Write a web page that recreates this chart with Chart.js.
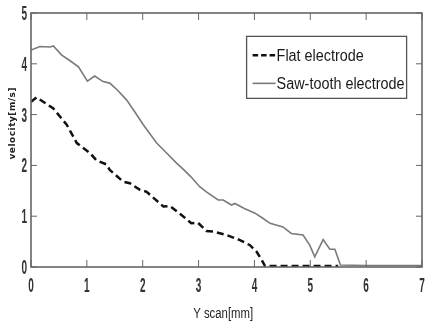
<!DOCTYPE html>
<html>
<head>
<meta charset="utf-8">
<script src="https://cdn.jsdelivr.net/npm/chart.js@4/dist/chart.umd.min.js"></script>
<style>
  html, body { margin: 0; padding: 0; background: #fff; }
  #wrap { width: 425px; height: 321px; position: relative; }
</style>
</head>
<body>
<div id="wrap"><canvas id="myChart" width="425" height="321"></canvas></div>
<script>
// velocity profiles (Y scan in mm, velocity in m/s)
const flatX = [0, 0.1, 0.4, 0.64, 0.82, 1.06, 1.17, 1.35, 1.41, 1.65, 1.77, 1.95, 2.07, 2.37, 2.49, 2.7, 2.87, 2.99, 3.14, 3.26, 3.5, 3.74, 3.92, 4.04, 4.13, 4.19, 4.8, 5.5];
const flatY = [3.25, 3.34, 3.12, 2.8, 2.44, 2.24, 2.1, 2.02, 1.91, 1.68, 1.65, 1.52, 1.48, 1.19, 1.2, 1.02, 0.86, 0.87, 0.71, 0.7, 0.63, 0.53, 0.43, 0.3, 0.14, 0.02, 0.02, 0.02];

const sawX = [0, 0.16, 0.34, 0.4, 0.55, 0.7, 0.85, 1.01, 1.14, 1.29, 1.41, 1.55, 1.71, 1.86, 2.01, 2.25, 2.45, 2.61, 2.71, 2.86, 3.02, 3.14, 3.35, 3.44, 3.59, 3.65, 3.82, 4.01, 4.15, 4.28, 4.51, 4.66, 4.87, 4.99, 5.08, 5.23, 5.35, 5.44, 5.54, 6.0, 6.5, 7.0];
const sawY = [4.27, 4.34, 4.33, 4.35, 4.17, 4.06, 3.94, 3.66, 3.76, 3.65, 3.62, 3.48, 3.29, 3.05, 2.8, 2.44, 2.22, 2.04, 1.94, 1.78, 1.58, 1.48, 1.32, 1.32, 1.22, 1.25, 1.15, 1.06, 0.96, 0.86, 0.79, 0.66, 0.63, 0.43, 0.2, 0.54, 0.35, 0.35, 0.04, 0.03, 0.03, 0.03];

const seriesNames = ['Flat electrode', 'Saw-tooth electrode'];
const xTicks = [0, 1, 2, 3, 4, 5, 6, 7];
const yTicks = [0, 1, 2, 3, 4, 5];
const xTitle = 'Y scan[mm]';
const yTitle = 'velocity[m/s]';

const FONT = '"Liberation Sans", Arial, sans-serif';
const AXIS = '#666';

function pts(xs, ys) {
  return xs.map((x, i) => ({ x: x, y: ys[i] }));
}

// the original uses a tall narrow font, so squeeze text sideways
function narrow(ctx, text, x, y, squeeze, align) {
  ctx.save();
  ctx.translate(x, y);
  ctx.scale(squeeze, 1);
  ctx.textAlign = align;
  ctx.fillText(text, 0, 0);
  ctx.restore();
}

// matlab style box, inward ticks, labels and the legend inside the axes
const boxPlugin = {
  id: 'boxPlugin',
  afterDraw(chart) {
    const ctx = chart.ctx;
    const a = chart.chartArea;
    const sx = chart.scales.x, sy = chart.scales.y;
    ctx.save();
    ctx.strokeStyle = AXIS;
    ctx.lineWidth = 1.6;
    ctx.strokeRect(a.left, a.top, a.right - a.left, a.bottom - a.top);
    ctx.lineWidth = 1;
    xTicks.forEach(v => {
      const px = sx.getPixelForValue(v);
      ctx.beginPath();
      ctx.moveTo(px, a.bottom); ctx.lineTo(px, a.bottom - 7);
      ctx.moveTo(px, a.top); ctx.lineTo(px, a.top + 7);
      ctx.stroke();
    });
    yTicks.forEach(v => {
      const py = sy.getPixelForValue(v);
      ctx.beginPath();
      ctx.moveTo(a.left, py); ctx.lineTo(a.left + 6, py);
      ctx.moveTo(a.right, py); ctx.lineTo(a.right - 6, py);
      ctx.stroke();
    });

    // tick labels
    ctx.fillStyle = '#333';
    ctx.font = 'bold 20px ' + FONT;
    ctx.textBaseline = 'alphabetic';
    xTicks.forEach(v => narrow(ctx, String(v), sx.getPixelForValue(v), a.bottom + 25, 0.5, 'center'));
    yTicks.forEach(v => narrow(ctx, String(v), a.left - 4, sy.getPixelForValue(v) + 7, 0.5, 'right'));

    // x title
    ctx.fillStyle = '#222';
    ctx.font = '14px ' + FONT;
    const xw = ctx.measureText(xTitle).width;
    narrow(ctx, xTitle, sx.getPixelForValue(3.44), a.bottom + 51, 60 / xw, 'center');

    // y title, rotated, bold with wide letter spacing
    ctx.save();
    ctx.translate(15, sy.getPixelForValue(2.83));
    ctx.rotate(-Math.PI / 2);
    ctx.font = 'bold 9px "DejaVu Sans", sans-serif';
    ctx.letterSpacing = '0.5px';
    ctx.textAlign = 'center';
    ctx.fillText(yTitle, 0, 0);
    ctx.restore();

    // legend
    const lx = sx.getPixelForValue(3.86), ly = sy.getPixelForValue(4.54);
    const lw = 160, lh = 62;
    ctx.fillStyle = '#fff';
    ctx.fillRect(lx, ly, lw, lh);
    ctx.strokeStyle = '#555';
    ctx.lineWidth = 1.3;
    ctx.strokeRect(lx, ly, lw, lh);
    ctx.font = '16px ' + FONT;
    const sq = 128 / ctx.measureText(seriesNames[1]).width;
    ctx.fillStyle = '#1a1a1a';
    chart.data.datasets.forEach((ds, i) => {
      const yy = ly + 19 + i * 28;
      ctx.beginPath();
      ctx.strokeStyle = ds.borderColor;
      ctx.lineWidth = ds.borderWidth;
      ctx.setLineDash(i === 0 ? [5.5, 3] : []);
      ctx.moveTo(lx + 6, yy); ctx.lineTo(lx + 29, yy);
      ctx.stroke();
      ctx.setLineDash([]);
      narrow(ctx, ds.label, lx + 30, yy + 6, sq, 'left');
    });
    ctx.restore();
  }
};

new Chart(document.getElementById('myChart'), {
  type: 'line',
  data: {
    datasets: [{
      label: seriesNames[0],
      data: pts(flatX, flatY),
      borderColor: '#111',
      borderWidth: 2.5,
      borderDash: [7, 4],
      pointRadius: 0,
      fill: false,
      tension: 0
    }, {
      label: seriesNames[1],
      data: pts(sawX, sawY),
      borderColor: '#7a7a7a',
      borderWidth: 1.6,
      pointRadius: 0,
      fill: false,
      tension: 0
    }]
  },
  options: {
    responsive: false,
    animation: false,
    layout: { padding: { top: 13, right: 3, left: 0, bottom: 0 } },
    plugins: { legend: { display: false }, tooltip: { enabled: false } },
    scales: {
      x: {
        type: 'linear',
        min: 0, max: 7,
        afterFit(s) { s.height = 54; },
        grid: { display: false, drawTicks: false },
        border: { display: false },
        ticks: { display: false }
      },
      y: {
        min: 0, max: 5,
        afterFit(s) { s.width = 31; },
        grid: { display: false, drawTicks: false },
        border: { display: false },
        ticks: { display: false }
      }
    }
  },
  plugins: [boxPlugin]
});
</script>
</body>
</html>
